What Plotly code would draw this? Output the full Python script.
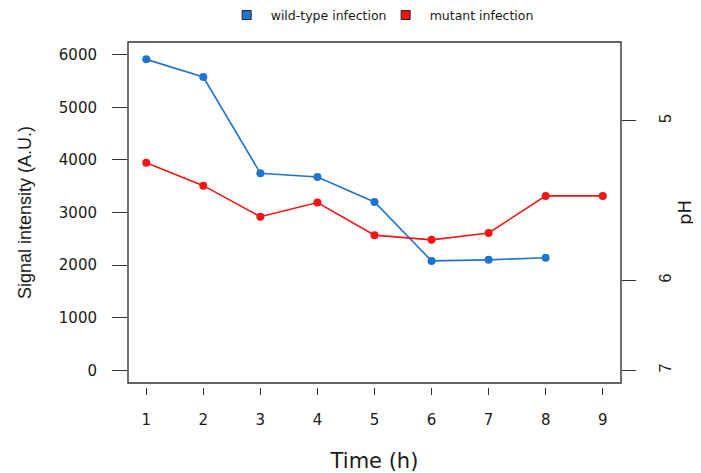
import plotly.graph_objects as go

# ---- data ----
time_h = [1, 2, 3, 4, 5, 6, 7, 8, 9]
wild_type = [5910, 5575, 3745, 3675, 3200, 2080, 2100, 2140, None]
mutant = [3945, 3510, 2920, 3190, 2570, 2480, 2610, 3315, 3315]
signal_ticks = [0, 1000, 2000, 3000, 4000, 5000, 6000]
ph_labels = ["5", "6", "7"]
ph_on_signal = [4740, 1710, 0]   # where each pH tick sits on the signal scale
series_names = ["wild-type infection", "mutant infection"]

BLUE = "#1f74d2"
RED = "#f41414"
INK = "#333333"
TXT = "#1a1a1a"

fig = go.Figure()
fig.add_trace(go.Scatter(x=time_h, y=wild_type, mode="lines+markers",
                         line=dict(color=BLUE, width=1.6),
                         marker=dict(color=BLUE, size=8),
                         showlegend=False, connectgaps=False))
fig.add_trace(go.Scatter(x=time_h, y=mutant, mode="lines+markers",
                         line=dict(color=RED, width=1.6),
                         marker=dict(color=RED, size=8),
                         showlegend=False))
# legend entries (square keys), on the right axis so it is drawn
for name, col in zip(series_names, [BLUE, RED]):
    fig.add_trace(go.Scatter(x=[None], y=[None], mode="markers", name=name,
                             yaxis="y2",
                             marker=dict(symbol="square", size=9, color=col,
                                         line=dict(color="#222222", width=1))))

H = 345.0
d0 = 4 / H
YR = [-240, 6240]

fig.update_layout(
    width=693, height=465,
    margin=dict(l=120, r=80, t=34, b=86, autoexpand=False),
    paper_bgcolor="white", plot_bgcolor="white",
    font=dict(family="DejaVu Sans", color=TXT),
    xaxis=dict(range=[0.68, 9.32], tickmode="array", tickvals=time_h,
               ticktext=[str(t) for t in time_h],
               anchor="free", position=0, showline=False, showgrid=False,
               zeroline=False, ticks="outside", ticklen=7, tickwidth=1.3,
               tickcolor=INK, ticklabelstandoff=12,
               tickfont=dict(size=15, family="DejaVu Sans", color=TXT),
               title=dict(text="Time (h)", standoff=30,
                          font=dict(size=21, family="DejaVu Sans", color=TXT))),
    yaxis=dict(range=YR, domain=[d0, 1], tickmode="array",
               tickvals=signal_ticks, ticktext=[str(v) for v in signal_ticks],
               showline=False, showgrid=False, zeroline=False,
               ticks="outside", ticklen=15, tickwidth=1.3, tickcolor=INK,
               ticklabelstandoff=12,
               tickfont=dict(size=15, family="DejaVu Sans", color=TXT),
               title=dict(text="Signal intensity (A.U.)", standoff=22,
                          font=dict(size=18, family="Liberation Sans", color=TXT))),
    yaxis2=dict(range=YR, domain=[d0, 1], overlaying="y", side="right",
                anchor="x", tickmode="array", tickvals=ph_on_signal,
                ticktext=ph_labels, showline=False, showgrid=False,
                zeroline=False, ticks="outside", ticklen=14, tickwidth=1.3,
                tickcolor=INK, tickangle=-90, ticklabelstandoff=16,
                tickfont=dict(size=16, family="Liberation Sans", color=TXT),
                title=dict(text="pH", standoff=5,
                           font=dict(size=18, family="DejaVu Sans", color=TXT))),
    legend=dict(orientation="h", x=0.192, xanchor="left", y=1.077,
                yanchor="middle", itemwidth=38, entrywidth=106,
                entrywidthmode="pixels", bgcolor="rgba(0,0,0,0)",
                font=dict(size=12.5, family="DejaVu Sans", color=TXT),
                itemclick=False),
    shapes=[dict(type="rect", xref="paper", yref="paper", x0=0, x1=1,
                 y0=d0, y1=1, line=dict(color=INK, width=1.4),
                 fillcolor="rgba(0,0,0,0)", layer="above")],
)

fig.write_html("out.html")
